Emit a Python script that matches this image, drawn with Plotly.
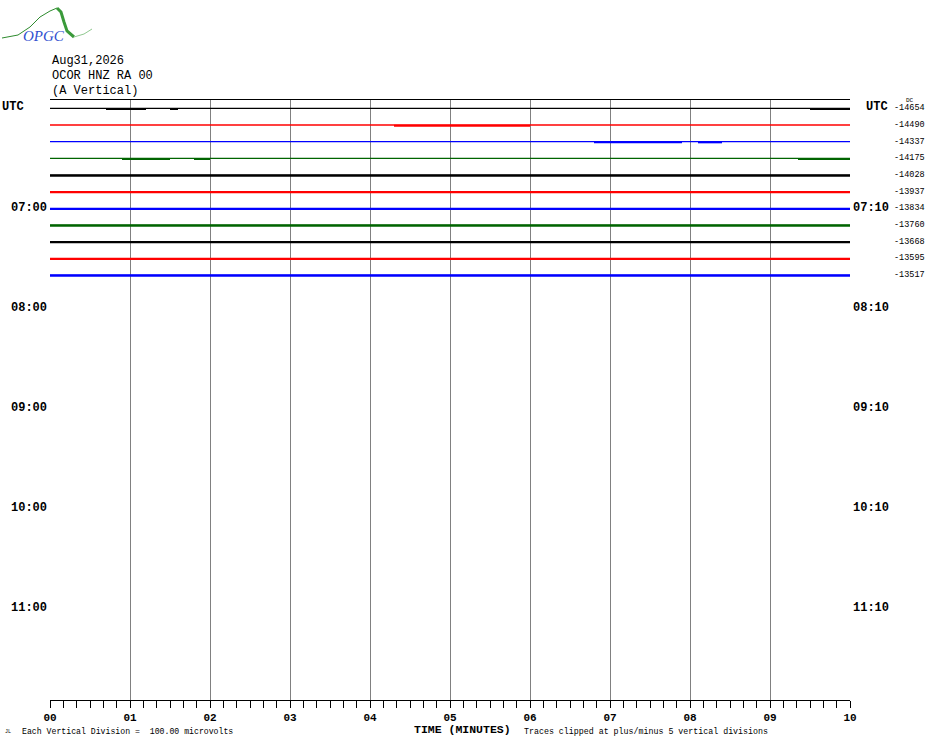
import plotly.graph_objects as go

# helicorder header
station_lines = ["Aug31,2026", "OCOR HNZ RA 00", "(A Vertical)"]

# one row per 10 minutes, starting at 06:00 UTC
n_rows = 36
row_colors = ["black", "red", "blue", "#006400"]
dc_values = [-14654, -14490, -14337, -14175, -14028, -13937, -13834,
             -13760, -13668, -13595, -13517]

# time ranges (minutes) in each recorded row where the trace is noisy
busy = [
    [(0.7, 1.2), (1.5, 1.6), (9.5, 10.0)],
    [(4.3, 6.0)],
    [(6.8, 7.9), (8.1, 8.4)],
    [(0.9, 1.5), (1.8, 2.0), (9.35, 10.0)],
    [(0.0, 10.0)],
    [(0.0, 10.0)],
    [(0.0, 10.0)],
    [(0.0, 10.0)],
    [(0.0, 10.0)],
    [(0.0, 10.0)],
    [(0.0, 10.0)],
]

left_hours = {6: "07:00", 12: "08:00", 18: "09:00", 24: "10:00", 30: "11:00"}
right_hours = {6: "07:10", 12: "08:10", 18: "09:10", 24: "10:10", 30: "11:10"}

minutes = list(range(11))
minute_labels = ["%02d" % m for m in minutes]


def px(x, y):
    # page pixels -> paper coordinates (plot area 50..850 x 100..700)
    return (x - 50) / 800, (700 - y) / 600


fig = go.Figure()

for i, dc in enumerate(dc_values):
    c = row_colors[i % 4]
    fig.add_trace(go.Scatter(x=[0, 10], y=[i, i], mode="lines",
                             line=dict(color=c, width=1.4), hoverinfo="skip",
                             showlegend=False))
    for a, b in busy[i]:
        fig.add_trace(go.Scatter(x=[a, b], y=[i + 0.04, i + 0.04], mode="lines",
                                 line=dict(color=c, width=2), hoverinfo="skip",
                                 showlegend=False))

mono = "Liberation Mono"
bold = dict(family=mono, size=12, color="black", weight="bold")
ann = []
for k, txt in enumerate(station_lines):
    x, y = px(50, 61 + 15 * k)
    ann.append(dict(x=x, xref="paper", y=y, yref="paper", text=txt, showarrow=False,
                    xanchor="left", yanchor="middle",
                    font=dict(family=mono, size=12, color="black")))

x, _ = px(0, 0)
ann.append(dict(x=x, xref="paper", y=0, yref="y", text="UTC", showarrow=False,
                xanchor="left", yshift=1, font=bold))
for r, txt in left_hours.items():
    ann.append(dict(x=0, xref="paper", y=r, yref="y", text=txt, showarrow=False,
                    xanchor="right", xshift=-1, font=bold))
ann.append(dict(x=1, xref="paper", y=0, yref="y", text="UTC", showarrow=False,
                xanchor="left", xshift=14, yshift=1, font=bold))
for r, txt in right_hours.items():
    ann.append(dict(x=1, xref="paper", y=r, yref="y", text=txt, showarrow=False,
                    xanchor="left", xshift=1, font=bold))
for i, dc in enumerate(dc_values):
    ann.append(dict(x=1, xref="paper", y=i, yref="y", text=str(dc), showarrow=False,
                    xanchor="left", xshift=42,
                    font=dict(family=mono, size=8.5, color="black")))
ann.append(dict(x=1, xref="paper", y=-0.3, yref="y", text="DC", showarrow=False,
                xanchor="left", xshift=54, yshift=3,
                font=dict(family=mono, size=6, color="black")))

x, y = px(462, 729)
ann.append(dict(x=x, xref="paper", y=y, yref="paper", text="TIME (MINUTES)",
                showarrow=False, xanchor="center", yanchor="middle",
                font=dict(family=mono, size=11.5, color="black", weight="bold")))
x, y = px(20, 731)
ann.append(dict(x=x, xref="paper", y=y, yref="paper",
                text="Each Vertical Division =  100.00 microvolts",
                showarrow=False, xanchor="left", yanchor="middle",
                font=dict(family=mono, size=8.2, color="black")))
x, y = px(522, 731)
ann.append(dict(x=x, xref="paper", y=y, yref="paper",
                text="Traces clipped at plus/minus 5 vertical divisions",
                showarrow=False, xanchor="left", yanchor="middle",
                font=dict(family=mono, size=8.3, color="black")))
x, y = px(3, 732)
ann.append(dict(x=x, xref="paper", y=y, yref="paper", text="JL",
                showarrow=False, xanchor="left", yanchor="middle",
                font=dict(family=mono, size=5, color="black")))

# OPGC logo
logo_thin = [(2, 38), (18, 35), (30, 27), (40, 17), (50, 11), (57, 8)]
logo_thick = [(57, 8), (61, 12), (64, 22), (67, 31), (74, 37)]
logo_tail = [(74, 37), (84, 34), (92, 29)]
shapes = []
for pts, w, col in [(logo_thin, 1, "#2e8b2e"), (logo_thick, 3, "#3a9a3a"),
                    (logo_tail, 1, "#90c890")]:
    p = "M " + " L ".join("%f,%f" % px(x, y) for x, y in pts)
    shapes.append(dict(type="path", path=p, xref="paper", yref="paper",
                       line=dict(color=col, width=w)))
x, y = px(44, 36)
ann.append(dict(x=x, xref="paper", y=y, yref="paper", text="<i>OPGC</i>",
                showarrow=False, xanchor="center", yanchor="middle",
                font=dict(family="Liberation Serif", size=15, color="#3050d0")))

fig.update_layout(
    width=930, height=744,
    margin=dict(l=50, r=80, t=100, b=44),
    plot_bgcolor="white", paper_bgcolor="white",
    showlegend=False,
    annotations=ann,
    shapes=shapes,
    xaxis=dict(range=[0, 10], tickvals=minutes, ticktext=minute_labels,
               showgrid=True, gridcolor="#808080", gridwidth=1,
               ticks="outside", ticklen=7, tickcolor="black",
               minor=dict(dtick=1 / 6, tick0=0, ticks="outside", ticklen=7,
                          tickcolor="black", showgrid=False),
               showline=True, linecolor="black", linewidth=1, mirror=True,
               zeroline=False,
               tickfont=dict(family=mono, size=11, color="black", weight="bold")),
    yaxis=dict(range=[n_rows - 0.5, -0.5], showgrid=False, zeroline=False,
               showticklabels=False, ticks="", showline=False),
)

fig.write_html("out.html", post_script="document.body.style.margin='0';",
               config={"displayModeBar": False})
